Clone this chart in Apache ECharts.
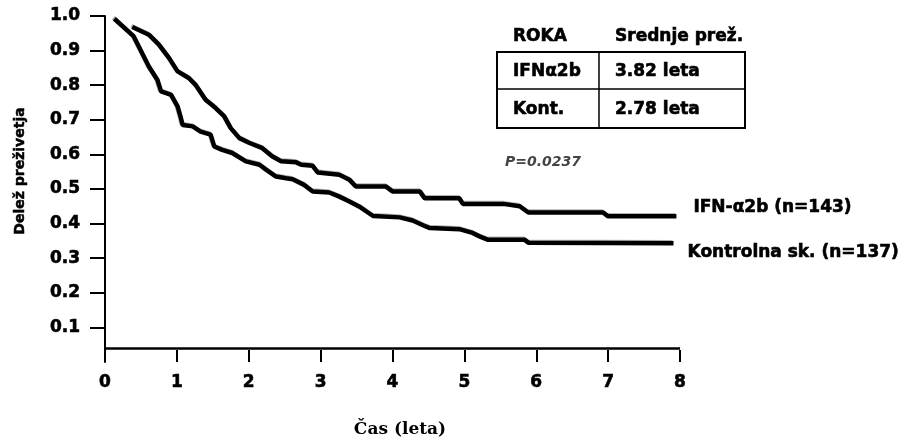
<!DOCTYPE html>
<html>
<head>
<meta charset="utf-8">
<script src="https://cdn.jsdelivr.net/npm/echarts@6/dist/echarts.min.js"></script>
<style>html,body{margin:0;padding:0;background:#fff}#c{width:903px;height:443px}</style>
</head>
<body>
<div id="c"></div>
<script>
// ---- data ----
const seriesNames = ['IFN-α2b (n=143)', 'Kontrolna sk. (n=137)'];
const ifnX = [0.38,0.61,0.75,0.89,1.01,1.17,1.26,1.40,1.54,1.66,1.75,1.87,2.01,2.19,2.33,2.45,2.66,2.73,2.89,2.96,3.26,3.40,3.49,3.91,4.00,4.38,4.45,4.93,4.98,5.54,5.77,5.89,6.93,7.00,7.95];
const ifnY = [0.968,0.946,0.917,0.879,0.840,0.820,0.801,0.758,0.734,0.710,0.676,0.647,0.633,0.618,0.594,0.580,0.577,0.570,0.567,0.548,0.541,0.527,0.507,0.507,0.493,0.493,0.473,0.473,0.457,0.457,0.450,0.432,0.432,0.421,0.421];
const ctrlX = [0.13,0.40,0.47,0.61,0.73,0.78,0.92,1.01,1.05,1.08,1.22,1.33,1.47,1.52,1.63,1.77,1.96,2.15,2.24,2.38,2.52,2.61,2.77,2.89,3.12,3.26,3.40,3.54,3.73,4.10,4.28,4.47,4.52,4.93,5.10,5.21,5.33,5.84,5.89,7.91];
const ctrlY = [0.992,0.941,0.912,0.854,0.815,0.782,0.772,0.739,0.710,0.685,0.681,0.666,0.657,0.623,0.613,0.604,0.580,0.570,0.556,0.536,0.531,0.528,0.512,0.493,0.490,0.478,0.464,0.449,0.422,0.418,0.409,0.391,0.387,0.384,0.374,0.363,0.353,0.353,0.345,0.343];
const yTicks = [0.1,0.2,0.3,0.4,0.5,0.6,0.7,0.8,0.9,1.0];
const xTicks = [0,1,2,3,4,5,6,7,8];
const xAxisBaseline = 0.04;
const tableHeader = ['ROKA', 'Srednje prež.'];
const tableRows = [['IFNα2b', '3.82 leta'], ['Kont.', '2.78 leta']];
const pValueText = 'P=0.0237';
const xTitle = 'Čas (leta)';
const yTitle = 'Delež preživetja';

// ---- chart ----
const FONT = '"DejaVu Sans", sans-serif';
const heavyText = { textShadowColor: 'rgba(0,0,0,0.35)', textShadowOffsetX: -1, textShadowOffsetY: -1, textShadowBlur: 0, textBorderColor: '#000', textBorderWidth: 0.6 };
const zip = (xs, ys) => xs.map((x, i) => [x, ys[i]]);

const chart = echarts.init(document.getElementById('c'), null, { renderer: 'canvas' });

const T = { left: 497, right: 745, top: 52, mid: 89, bottom: 128, div: 599 };
const tableGraphics = [
  { type: 'rect', shape: { x: T.left, y: T.top, width: T.right - T.left, height: T.bottom - T.top }, style: { fill: 'none', stroke: '#000', lineWidth: 2 } },
  { type: 'line', shape: { x1: T.left, y1: T.mid, x2: T.right, y2: T.mid }, style: { stroke: '#000', lineWidth: 1.5 } },
  { type: 'line', shape: { x1: T.div, y1: T.top, x2: T.div, y2: T.bottom }, style: { stroke: '#000', lineWidth: 1.5 } }
];
const colX = [513, 615];
const rowY = [37, 72, 110];
[tableHeader].concat(tableRows).forEach((row, r) => {
  row.forEach((txt, c) => {
    tableGraphics.push({ type: 'text', x: colX[c], y: rowY[r], style: { text: txt, font: 'bold 17px ' + FONT, fill: '#000', stroke: '#000', lineWidth: 0.6, textAlign: 'left', textVerticalAlign: 'middle' } });
  });
});

const option = {
  animation: false,
  backgroundColor: '#fff',
  grid: { left: 105, right: 223, top: 16, bottom: 81, outerBoundsMode: 'none' },
  xAxis: {
    type: 'value', min: 0, max: 8, interval: 1,
    axisLine: { show: false },
    axisTick: { show: true, inside: true, length: 12, lineStyle: { color: '#000', width: 2 } },
    axisLabel: { margin: 12, fontFamily: FONT, fontWeight: 'bold', fontSize: 17, color: '#000', formatter: v => String(v), ...heavyText },
    splitLine: { show: false }
  },
  yAxis: {
    type: 'value', min: 0, max: 1, interval: 0.1,
    axisLine: { show: true, lineStyle: { color: '#000', width: 2 } },
    axisTick: { show: true, length: 15, customValues: yTicks, lineStyle: { color: '#000', width: 2 } },
    axisLabel: { margin: 25, customValues: yTicks, fontFamily: FONT, fontWeight: 'bold', fontSize: 17, color: '#000', formatter: v => v.toFixed(1), ...heavyText },
    splitLine: { show: false }
  },
  graphic: [
    { type: 'text', x: 400, y: 430, style: { text: xTitle, font: 'bold 17px "DejaVu Serif", serif', fill: '#000', textAlign: 'center', textVerticalAlign: 'middle' } },
    { type: 'text', x: 20, y: 171, rotation: Math.PI / 2, style: { text: yTitle, font: 'bold 14px ' + FONT, fill: '#000', stroke: '#000', lineWidth: 0.5, textAlign: 'center', textVerticalAlign: 'middle' } },
    { type: 'text', x: 505, y: 162, style: { text: pValueText, font: 'italic bold 14px ' + FONT, fill: '#444', textAlign: 'left', textVerticalAlign: 'middle' } }
  ].concat(tableGraphics),
  series: [
    {
      name: seriesNames[0], type: 'line', data: zip(ifnX, ifnY), symbol: 'none', smooth: false,
      lineStyle: { color: '#000', width: 4.5, shadowColor: 'rgba(0,0,0,0.3)', shadowOffsetX: -1, shadowOffsetY: -1 },
      endLabel: { show: true, formatter: '{a}', distance: 0, offset: [17, -9], fontFamily: FONT, fontWeight: 'bold', fontSize: 17, color: '#000', ...heavyText }
    },
    {
      name: seriesNames[1], type: 'line', data: zip(ctrlX, ctrlY), symbol: 'none', smooth: false,
      lineStyle: { color: '#000', width: 4.5, shadowColor: 'rgba(0,0,0,0.3)', shadowOffsetX: -1, shadowOffsetY: -1 },
      endLabel: { show: true, formatter: '{a}', distance: 0, offset: [14, 9], fontFamily: FONT, fontWeight: 'bold', fontSize: 17, color: '#000', ...heavyText },
      markLine: {
        silent: true, symbol: 'none', label: { show: false },
        lineStyle: { color: '#000', width: 2.5, type: 'solid' },
        data: [[{ coord: [xTicks[0], xAxisBaseline] }, { coord: [xTicks[xTicks.length - 1], xAxisBaseline] }]]
      }
    }
  ]
};
chart.setOption(option);
</script>
</body>
</html>
